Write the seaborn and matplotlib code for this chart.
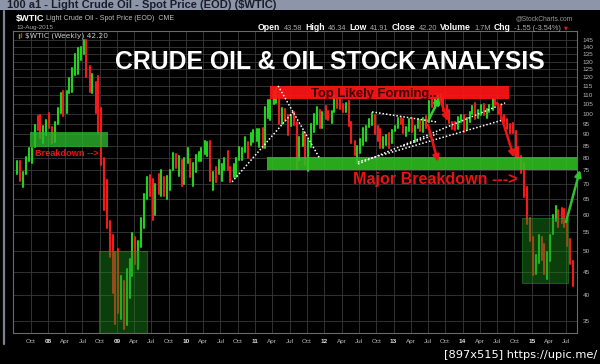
import numpy as np
import pandas as pd
import matplotlib
matplotlib.use("Agg")
import matplotlib.pyplot as plt
import seaborn as sns
from matplotlib.patches import Rectangle
from matplotlib.ticker import FixedLocator, FixedFormatter, NullLocator

# ---------------- data: half-monthly bars of $WTIC, first bar 15-Jul-2007 ----------------
first_date = "2007-07-15"
first_open = 75.0
highs = [
    78.8, 78.5, 74.5, 80.2, 84.1, 83.8, 94.5, 98.6, 99.3, 94.0, 97.0,                      # 2007
    100.1, 93.5, 96.0, 103.0, 111.0, 111.8, 112.2, 119.9, 126.0, 135.1, 139.1, 140.2,
    145.3, 145.0, 127.0, 122.0, 117.0, 120.9, 103.0, 80.0, 71.5, 58.0, 54.0, 49.8,          # 2008
    50.5, 44.0, 43.0, 45.5, 48.0, 54.7, 53.5, 52.5, 59.0, 66.5, 72.5, 73.4,
    72.0, 70.0, 73.7, 75.0, 72.5, 73.0, 75.0, 82.0, 81.5, 80.5, 79.0, 80.0,                 # 2009
    83.9, 79.5, 78.0, 81.0, 82.5, 83.8, 87.1, 86.5, 87.2, 74.5, 76.5, 79.0,
    77.5, 80.0, 82.9, 76.5, 77.5, 80.0, 84.4, 84.0, 88.6, 86.5, 90.8, 92.0,                 # 2010
    92.6, 92.5, 92.8, 103.4, 106.9, 106.9, 112.2, 113.9, 113.9, 102.9, 102.4, 99.3,
    99.0, 100.6, 95.8, 89.0, 91.0, 90.5, 87.5, 94.6, 99.8, 103.4, 101.8, 101.0,             # 2011
    103.7, 101.5, 101.5, 109.8, 108.0, 108.3, 105.0, 105.5, 106.4, 96.0, 87.0, 85.0,
    88.0, 92.9, 94.0, 97.3, 100.4, 99.2, 93.8, 92.5, 89.0, 89.9, 90.5, 92.0,                # 2012
    94.1, 98.0, 98.2, 97.5, 93.5, 97.4, 97.8, 94.0, 97.5, 96.6, 98.0, 98.7,
    106.5, 108.0, 108.5, 110.0, 110.5, 108.5, 104.5, 102.0, 96.0, 95.7, 98.3, 99.3,         # 2013
    99.4, 98.0, 100.7, 104.0, 105.2, 102.0, 104.6, 104.8, 102.5, 104.6, 107.7, 107.7,
    105.0, 104.5, 99.0, 97.5, 95.0, 95.5, 91.5, 84.5, 80.8, 77.8, 69.0, 59.0,               # 2014
    53.5, 49.0, 54.2, 53.5, 51.6, 49.6, 54.0, 59.9, 62.6, 61.4, 61.9, 61.8, 58.0, 53.0, 47.5,  # 2015
]
lows = [
    73.5, 71.0, 69.0, 73.5, 78.5, 78.0, 84.5, 92.0, 88.5, 86.0, 89.5,                      # 2007
    93.0, 86.1, 86.5, 95.0, 100.5, 98.6, 100.5, 111.0, 111.3, 121.5, 122.0, 131.0,
    135.0, 120.5, 111.3, 111.0, 100.5, 90.5, 77.0, 61.3, 56.0, 48.5, 40.3, 34.5,            # 2008
    36.5, 35.5, 33.6, 34.4, 39.4, 44.0, 46.8, 45.7, 51.0, 56.0, 65.0, 66.0,
    58.3, 60.0, 66.5, 65.8, 66.0, 65.0, 68.0, 75.0, 76.0, 73.0, 69.5, 70.0,                 # 2009
    78.0, 72.4, 69.5, 74.5, 78.5, 78.5, 81.5, 80.5, 71.0, 68.0, 70.8, 73.5,
    71.0, 75.0, 75.0, 70.8, 72.5, 72.6, 79.0, 79.0, 82.5, 80.0, 85.5, 86.5,                 # 2010
    87.0, 84.5, 84.0, 84.0, 98.0, 96.8, 105.0, 105.5, 94.6, 95.0, 96.5, 89.6,
    94.0, 94.5, 75.7, 79.0, 85.0, 77.1, 74.9, 84.5, 91.0, 95.0, 93.0, 93.0,                 # 2011
    97.5, 97.0, 95.5, 101.0, 103.0, 102.5, 100.7, 101.0, 94.0, 86.0, 81.2, 77.7,
    82.0, 85.5, 87.0, 93.5, 94.5, 90.0, 87.0, 84.1, 84.0, 85.5, 84.0, 86.0,                 # 2012
    91.5, 93.0, 95.0, 90.6, 89.3, 91.5, 91.0, 86.7, 93.0, 91.5, 91.0, 93.0,
    96.0, 103.5, 103.0, 104.0, 106.5, 101.5, 101.0, 95.2, 92.5, 91.8, 92.5, 96.0,           # 2013
    91.2, 92.0, 96.0, 100.0, 97.4, 98.0, 99.0, 99.0, 98.0, 101.0, 102.0, 104.5,
    100.0, 97.5, 95.7, 92.5, 90.4, 90.8, 80.0, 79.4, 74.0, 65.7, 57.3, 52.5,                # 2014
    44.2, 44.4, 47.0, 47.8, 44.4, 43.4, 47.4, 54.3, 58.0, 56.5, 57.5, 56.5, 51.3, 46.7, 41.9,  # 2015
]
closes = [
    76.8, 71.6, 74.0, 79.1, 81.7, 83.7, 94.5, 94.1, 88.7, 91.3, 96.0,                      # 2007
    94.2, 91.8, 95.5, 101.8, 110.2, 101.6, 111.8, 113.5, 124.2, 127.4, 134.9, 140.0,
    145.1, 124.1, 113.8, 115.5, 101.2, 100.6, 78.6, 67.8, 57.0, 54.4, 46.3, 44.6,           # 2008
    37.8, 41.7, 37.5, 44.8, 46.2, 49.7, 49.4, 51.1, 58.6, 66.3, 72.0, 69.9,
    59.9, 69.4, 67.5, 70.0, 68.9, 70.6, 74.2, 77.0, 76.4, 77.3, 69.9, 79.4,                 # 2009
    79.4, 72.9, 74.1, 79.7, 81.2, 83.8, 84.1, 86.2, 71.6, 73.9, 73.8, 75.6,
    76.0, 78.9, 75.4, 71.9, 76.5, 79.9, 81.2, 81.4, 84.9, 84.1, 88.2, 91.4,                 # 2010
    91.5, 92.2, 85.6, 97.9, 101.2, 106.7, 109.7, 113.9, 99.7, 102.7, 99.3, 95.4,
    97.2, 95.7, 85.4, 88.8, 90.2, 79.2, 86.8, 93.2, 99.0, 100.4, 94.9, 99.0,                # 2011
    98.7, 98.5, 100.9, 107.1, 105.4, 103.0, 102.8, 104.9, 94.8, 86.5, 84.0, 84.9,
    87.1, 88.1, 93.4, 96.5, 99.0, 92.2, 91.9, 86.2, 86.3, 88.9, 86.7, 91.8,                 # 2012
    93.6, 97.5, 97.3, 92.1, 93.0, 97.2, 91.3, 93.5, 94.2, 91.9, 97.9, 96.6,
    105.9, 105.0, 107.5, 107.6, 108.2, 102.3, 102.0, 96.4, 93.8, 92.7, 96.6, 98.4,          # 2013
    92.6, 97.5, 100.3, 102.6, 98.9, 101.6, 103.7, 99.7, 102.0, 102.7, 106.9, 105.4,
    100.8, 98.2, 97.3, 95.9, 92.3, 91.2, 81.8, 80.5, 75.8, 66.2, 57.8, 53.3,                # 2014
    46.3, 48.2, 52.8, 49.8, 44.8, 47.6, 53.3, 59.6, 60.5, 60.3, 59.9, 59.5, 53.0, 47.1, 42.2,  # 2015
]

x_tick_dates = ["2007-10-01"] + [f"{y}-{m}-01" for y in range(2008, 2016) for m in ("01", "04", "07", "10")][:-1]
x_tick_labels = ["Oct",
                 "08", "Apr", "Jul", "Oct", "09", "Apr", "Jul", "Oct",
                 "10", "Apr", "Jul", "Oct", "11", "Apr", "Jul", "Oct",
                 "12", "Apr", "Jul", "Oct", "13", "Apr", "Jul", "Oct",
                 "14", "Apr", "Jul", "Oct", "15", "Apr", "Jul"]
y_ticks = [35, 40, 45, 50, 55, 60, 65, 70, 75, 80, 85, 90, 95, 100, 105, 110, 115, 120,
           125, 130, 135, 140, 145]

W, H = 600, 364


def frac_year(d):
    d = pd.to_datetime(d)
    return d.year + (d.dayofyear - 1) / 365.25


# ---------------- frame ----------------
sns.set_theme(style="dark")
plt.rcParams["font.family"] = ["Liberation Sans", "DejaVu Sans"]

fig = plt.figure(figsize=(W / 100, H / 100), dpi=100, facecolor="black")


def P(x, y):
    return x / W, 1 - y / H


# header bar
fig.patches.append(Rectangle((0, 1 - 10 / H), 1, 10 / H, transform=fig.transFigure,
                             facecolor="#8d96a9", edgecolor="none", zorder=0))
fig.text(*P(7, 5.2), "100 a1 - Light Crude Oil - Spot Price (EOD) ($WTIC)", fontsize=8.0,
         color="#1a1c28", ha="left", va="center", fontweight="bold")
fig.lines.append(plt.Line2D([3.5 / W, 3.5 / W], [1 - 11 / H, 1 - 344 / H], transform=fig.transFigure,
                            color="#7c8494", lw=1.6))

ax = fig.add_axes([13 / W, 1 - 333 / H, (577 - 13) / W, (333 - 31) / H])
ax.set_facecolor("black")

# ---------------- bars ----------------
dates = pd.date_range(first_date, periods=len(closes), freq="SMS") + pd.Timedelta(days=7)
t = frac_year(dates).to_numpy()
opens = [first_open] + closes[:-1]
direction = ["up" if c >= o else "down" for c, o in zip(closes, opens)]
n = len(closes)
bars = pd.DataFrame({
    "t": np.repeat(t, 2),
    "price": np.ravel(np.column_stack([lows, highs])),
    "bar": np.repeat(np.arange(n), 2),
    "dir": np.repeat(direction, 2),
})
sns.lineplot(data=bars, x="t", y="price", units="bar", estimator=None, hue="dir",
             palette={"up": "#1ed21e", "down": "#f21a1a"}, legend=False, linewidth=1.5,
             sort=False, ax=ax, zorder=2)

ax.set_yscale("log")
ax.set_ylim(33.0, 151.7)
ax.set_xlim(2007.493, 2015.655)
ax.yaxis.set_major_locator(FixedLocator(y_ticks))
ax.yaxis.set_major_formatter(FixedFormatter([str(v) for v in y_ticks]))
ax.yaxis.set_minor_locator(NullLocator())
ax.yaxis.tick_right()
ax.xaxis.set_major_locator(FixedLocator([frac_year(d) for d in x_tick_dates]))
ax.xaxis.set_major_formatter(FixedFormatter(x_tick_labels))
ax.tick_params(axis="y", length=0, pad=4, labelsize=4.6, colors="#b8b8b8")
ax.tick_params(axis="x", length=0, pad=4, labelsize=4.6, colors="#b8b8b8")
for lab in ax.get_xticklabels():
    if lab.get_text().isdigit():
        lab.set_fontweight("bold")
        lab.set_color("#e0e0e0")
ax.set_xlabel("")
ax.set_ylabel("")
ax.grid(True, color="#3a3a3a", lw=0.6)
for s in ax.spines.values():
    s.set_color("#6a6a6a")
    s.set_linewidth(0.8)

# ---------------- annotations ----------------
box_2008 = (2007.739, 2008.868, 84.5, 91.1)
box_top = (2011.213, 2014.671, 107.6, 115.0)
band_support = (2011.169, 2015.655, 75.3, 80.3)
box_2009 = (2008.738, 2009.433, 33.0, 50.0)
box_2015 = (2014.860, 2015.525, 42.5, 59.0)


def rect(b, fc, alpha, ec="none", lw=0, z=3):
    ax.add_patch(Rectangle((b[0], b[2]), b[1] - b[0], b[3] - b[2], facecolor=fc, alpha=alpha,
                           edgecolor=ec, lw=lw, zorder=z))


rect(box_2009, "#1c8a1c", 0.45, ec="#2aa02a", lw=0.8)
rect(box_2015, "#1c8a1c", 0.45, ec="#2aa02a", lw=0.8)
rect(box_2008, "#2cb82c", 0.78)
rect(band_support, "#30c020", 0.88)
rect(box_top, "#ff1414", 0.92)

dotted = [
    ((2010.663, 70.8), (2011.546, 100.8)),
    ((2011.329, 115.0), (2011.936, 79.5)),
    ((2012.486, 77.5), (2014.614, 105.5)),
    ((2012.486, 78.3), (2014.585, 96.8)),
    ((2013.140, 84.9), (2013.629, 90.2)),
    ((2012.689, 100.8), (2013.629, 95.8)),
]
for (t0, p0), (t1, p1) in dotted:
    ax.plot([t0, t1], [p0, p1], color="white", lw=1.1, ls=(0, (1.0, 1.3)), zorder=4)

arrows = [
    ((2013.499, 96.2), (2013.673, 108.7), "#30d030"),
    ((2013.499, 94.4), (2013.644, 78.3), "#f01414"),
    ((2013.673, 107.5), (2013.789, 96.2), "#f01414"),
    ((2014.498, 105.5), (2014.744, 80.0), "#f01414"),
    ((2015.496, 57.8), (2015.699, 75.2), "#30c030"),
]
for (t0, p0), (t1, p1), c in arrows:
    ax.annotate("", xy=(t1, p1), xytext=(t0, p0), annotation_clip=False,
                arrowprops=dict(arrowstyle="-|>", color=c, lw=1.8, mutation_scale=9,
                                shrinkA=0, shrinkB=0), zorder=5)

ax.text(2008.275, 81.9, "Breakdown -->", color="#e81414", fontsize=6.6, fontweight="bold",
        ha="center", va="center", zorder=6)
ax.text(2012.718, 110.4, "Top Likely Forming..", color="#3a0000", fontsize=9.4, fontweight="bold",
        ha="center", va="center", zorder=6)
ax.text(2013.60, 71.5, "Major Breakdown --->", color="#e81414", fontsize=11.6, fontweight="bold",
        ha="center", va="center", zorder=6)

# ---------------- header texts ----------------
fig.text(*P(330, 62), "CRUDE OIL & OIL STOCK ANALYSIS", color="white", fontsize=17.8,
         fontweight="bold", ha="center", va="center")
fig.text(*P(16, 19), "$WTIC", color="white", fontsize=6.6, fontweight="bold", ha="left", va="center")
fig.text(*P(46, 19), "Light Crude Oil - Spot Price (EOD)  CME", color="#bdbdbd", fontsize=5.0,
         ha="left", va="center")
fig.text(*P(16, 27), "13-Aug-2015", color="#a8a8a8", fontsize=4.6, ha="left", va="center")
fig.text(*P(573, 19), "@StockCharts.com", color="#9a9a9a", fontsize=4.8, ha="right", va="center")
fig.lines.append(plt.Line2D([18.5 / W, 18.5 / W], [1 - 34 / H, 1 - 38 / H], transform=fig.transFigure,
                            color="#1ed21e", lw=1.0))
fig.lines.append(plt.Line2D([21 / W, 21 / W], [1 - 33 / H, 1 - 37 / H], transform=fig.transFigure,
                            color="#f21a1a", lw=1.0))
fig.text(*P(25, 36), "$WTIC (Weekly) 42.20", color="#c8c8c8", fontsize=5.4, ha="left", va="center",
         family=["DejaVu Sans"])

renderer = fig.canvas.get_renderer()
x_cur = 258
parts = [("Open", True), ("43.58", False), ("High", True), ("46.34", False), ("Low", True),
         ("41.91", False), ("Close", True), ("42.20", False), ("Volume", True), ("1.7M", False),
         ("Chg", True), ("-1.55 (-3.54%)", False)]
for s, b in parts:
    tt = fig.text(*P(x_cur, 28), s, color="white" if b else "#a8a8a8",
                  fontsize=6.2 if b else 5.3, fontweight="bold" if b else "normal",
                  ha="left", va="center")
    bb = tt.get_window_extent(renderer)
    x_cur = bb.x1 + 3.2
fig.text(*P(x_cur, 28), "\u25bc", color="#e02020", fontsize=3.5, ha="left", va="center",
         family=["DejaVu Sans"])

fig.text(*P(597, 355), "[897x515] https://upic.me/", color="white", fontsize=8.2, ha="right",
         va="center", family=["Liberation Sans Narrow", "DejaVu Sans"])

fig.savefig("out.png", dpi=100, facecolor="black")
